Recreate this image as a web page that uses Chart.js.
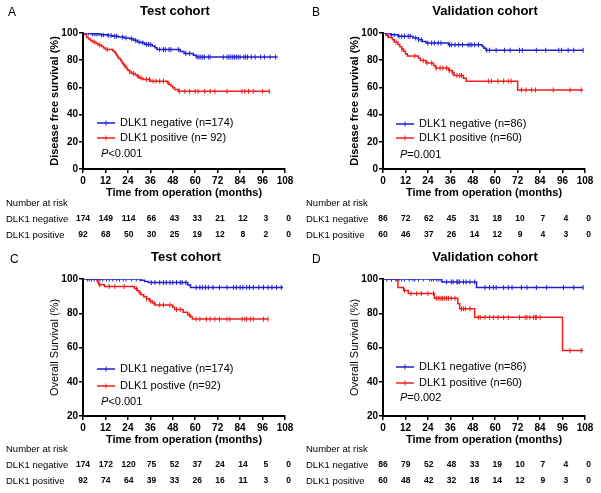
<!DOCTYPE html>
<html>
<head>
<meta charset="utf-8">
<title>DLK1 survival</title>
<script src="https://cdn.jsdelivr.net/npm/chart.js@4.4.1/dist/chart.umd.min.js"></script>
<style>
  html, body { margin: 0; padding: 0; background: #fff; }
  #wrap { position: relative; width: 601px; height: 493px; overflow: hidden; }
  canvas { position: absolute; }
</style>
</head>
<body>
<div id="wrap">
  <canvas id="panelA" width="300" height="246" style="left:0;top:0"></canvas>
  <canvas id="panelB" width="301" height="246" style="left:300px;top:0"></canvas>
  <canvas id="panelC" width="300" height="247" style="left:0;top:246px"></canvas>
  <canvas id="panelD" width="301" height="247" style="left:300px;top:246px"></canvas>
</div>
<script>
const monthTicks = [0, 12, 24, 36, 48, 60, 72, 84, 96, 108];

// A - disease free survival, test cohort
const dfsTestNegTime = [0, 4, 9, 13, 16, 19, 22, 25, 27, 29, 31, 33, 37, 38.5, 39.5, 52, 54, 59, 60.5, 104];
const dfsTestNegSurv = [100, 99.4, 98.8, 98.2, 97.6, 97.0, 96.4, 95.8, 94.6, 93.4, 92.8, 91.6, 90.4, 89.1, 87.8, 86.4, 85.0, 83.7, 82.3, 82.3];
const dfsTestNegCens = [3, 5, 6, 7, 8, 10, 11, 13.5, 15, 17, 18, 21, 23, 26, 28, 30, 32, 34, 35, 36, 41, 43, 44, 46, 47, 51, 55, 57, 61, 62, 63, 64, 65, 67, 68, 75, 77, 78, 79, 80, 81, 82, 83, 84, 86, 87, 88, 90, 92, 95, 97, 100, 103];
const dfsTestPosTime = [0, 1, 2, 3, 4, 5, 7, 8, 10, 11, 12, 16, 17, 17.5, 18, 18.5, 19, 20, 20.5, 21, 21.5, 22, 23, 23.5, 24, 25, 26, 28, 29, 30, 32, 36, 45, 46, 47, 48, 49, 51, 99.6];
const dfsTestPosSurv = [100, 98.9, 96.7, 95.6, 94.5, 93.4, 92.3, 91.2, 90.1, 89.0, 87.9, 86.8, 85.7, 84.6, 83.5, 82.4, 81.3, 80.2, 79.1, 78.0, 76.9, 75.8, 74.7, 73.6, 72.5, 71.4, 70.3, 69.2, 68.1, 67.0, 65.8, 64.6, 63.4, 62.2, 61.0, 59.7, 58.4, 57.1, 57.1];
const dfsTestPosCens = [6, 9, 13, 22.5, 25, 27, 29.5, 31, 34, 35.5, 37.5, 39, 41, 43, 45.5, 51.5, 54.5, 57, 60, 61.5, 65, 68, 70.5, 77, 85, 86.5, 88.5, 91, 96, 99.6];
const riskDfsTestNeg = [174, 149, 114, 66, 43, 33, 21, 12, 3, 0];
const riskDfsTestPos = [92, 68, 50, 30, 25, 19, 12, 8, 2, 0];

// B - disease free survival, validation cohort
const dfsValNegTime = [0, 4, 8, 16, 19, 21, 23, 35, 53, 54, 55, 107];
const dfsValNegSurv = [100, 98.8, 97.6, 96.3, 95.1, 93.8, 92.6, 91.3, 90.0, 88.7, 87.3, 87.3];
const dfsValNegCens = [2, 4.5, 6, 8.5, 10, 11.5, 13.5, 14.5, 17.5, 19, 20.5, 24, 26, 27.5, 29.5, 31, 35.5, 36.5, 38.5, 40.5, 42.5, 45.5, 46.5, 47.5, 49, 51, 55.5, 57, 60.5, 65, 68, 73, 74.5, 82, 87, 94, 95.5, 99, 102, 107];
const dfsValPosTime = [0, 1.5, 3, 5, 6, 8, 9, 10, 11, 12, 13, 19, 20, 23, 27, 28, 35, 37, 38, 43, 44.5, 72, 107];
const dfsValPosSurv = [100, 98.3, 96.7, 95.0, 93.3, 91.6, 89.9, 88.2, 86.5, 84.8, 83.1, 81.4, 79.7, 77.9, 76.1, 74.3, 72.5, 70.6, 68.7, 66.7, 64.6, 58.1, 58.1];
const dfsValPosCens = [2.5, 7, 10, 17, 21.5, 23.5, 26, 28.5, 30.5, 32, 34, 35.5, 37.5, 39.5, 41, 42, 56.5, 58, 61.5, 64.5, 67, 68.5, 74, 76.5, 79.5, 81.5, 91, 100, 106];
const riskDfsValNeg = [86, 72, 62, 45, 31, 18, 10, 7, 4, 0];
const riskDfsValPos = [60, 46, 37, 26, 14, 12, 9, 4, 3, 0];

// C - overall survival, test cohort
const osTestNegTime = [0, 31, 33, 35, 56, 57.5, 107];
const osTestNegSurv = [100, 99.3, 98.6, 97.9, 96.5, 95.1, 95.1];
const osTestNegCens = [2.5, 4.5, 6, 8, 9, 10.5, 12.5, 14, 16, 18, 19.5, 21.5, 23, 26, 28.5, 30.5, 36.5, 38.5, 41, 43, 44.5, 46.5, 48, 50, 52, 53, 55, 60.5, 62.5, 64, 65.5, 67, 69.5, 73, 77, 80.5, 82, 84, 85.5, 87.5, 89, 91, 94, 96.5, 99, 101, 103.5, 106];
const osTestPosTime = [0, 7.5, 8, 8.5, 11.5, 27.5, 29, 30, 31, 32.5, 34, 35.5, 37, 38.5, 48, 49, 53.5, 56, 57.5, 58.5, 99];
const osTestPosSurv = [100, 98.9, 97.8, 96.7, 95.6, 94.4, 93.2, 92.0, 90.8, 89.6, 88.4, 87.2, 86.0, 84.8, 83.5, 82.2, 80.6, 79.0, 77.8, 76.6, 76.6];
const osTestPosCens = [3.5, 9, 14, 17, 22, 28.5, 30.5, 34, 36, 38, 41, 43, 46.5, 50, 52, 57, 60.5, 62.5, 66, 68, 70.5, 73, 77, 78.5, 85, 86.5, 87.5, 89.5, 91, 96.5, 99];
const riskOsTestNeg = [174, 172, 120, 75, 52, 37, 24, 14, 5, 0];
const riskOsTestPos = [92, 74, 64, 39, 33, 26, 16, 11, 3, 0];

// D - overall survival, validation cohort
const osValNegTime = [0, 31.5, 50, 107];
const osValNegSurv = [100, 98.3, 95.0, 95.0];
const osValNegCens = [2, 4.5, 7, 8.5, 10, 11.5, 14, 16, 17, 19, 21.5, 25, 26, 27, 28.5, 29.5, 30.5, 34, 36.5, 37.5, 39.5, 40, 41, 43, 44.5, 46.5, 49, 54.5, 57, 59, 60.5, 64.5, 67, 69, 74, 77, 82, 87.5, 96.5, 102, 107];
const osValPosTime = [0, 8, 11, 13.5, 27.5, 40, 41, 49, 96, 107];
const osValPosSurv = [100, 95.0, 93.3, 91.5, 88.7, 85.6, 82.6, 77.6, 58.2, 58.2];
const osValPosCens = [4.5, 7, 11.5, 15, 18, 20.5, 24, 27, 28.5, 29.5, 30.5, 31.5, 32, 33, 34, 35, 36.5, 38.5, 42, 43, 44, 46.5, 51, 52, 54.5, 57, 59, 61.5, 64.5, 67, 73, 76, 77, 78.5, 80.5, 81.5, 82, 84, 100, 106];
const riskOsValNeg = [86, 79, 52, 48, 33, 19, 10, 7, 4, 0];
const riskOsValPos = [60, 48, 42, 32, 18, 14, 12, 9, 3, 0];

const FONT = '"Liberation Sans", Arial, sans-serif';
const BLUE = '#1f1fd2';
const RED = '#f01c1c';

Chart.defaults.font.family = FONT;
Chart.defaults.color = '#000';

// value of the step curve at time t
function survAt(times, surv, t) {
    let s = surv[0];
    for (let i = 0; i < times.length; i++) {
        if (times[i] <= t) s = surv[i];
    }
    return s;
}

function stepPoints(times, surv) {
    return times.map((t, i) => ({ x: t, y: surv[i] }));
}

function censorPoints(times, surv, cens) {
    return cens.map(t => ({ x: t, y: survAt(times, surv, t) }));
}

// panel letter, title, legend, p value and the number-at-risk table
const panelText = {
    id: 'panelText',
    afterDraw(chart, args, opts) {
        const ctx = chart.ctx;
        const xScale = chart.scales.x;
        ctx.save();
        ctx.fillStyle = '#000';
        ctx.textBaseline = 'middle';

        ctx.font = '12px ' + FONT;
        ctx.textAlign = 'left';
        ctx.fillText(opts.letter, opts.letterX, opts.letterY);

        ctx.font = 'bold 13px ' + FONT;
        ctx.textAlign = 'center';
        ctx.fillText(opts.title, opts.titleX, opts.titleY);

        ctx.font = '11px ' + FONT;
        ctx.textAlign = 'left';
        opts.legend.forEach((item, i) => {
            const y = opts.legendY[i];
            ctx.strokeStyle = item.color;
            ctx.lineWidth = 1.5;
            ctx.beginPath();
            ctx.moveTo(opts.legendX, y);
            ctx.lineTo(opts.legendX + 18, y);
            ctx.stroke();
            ctx.lineWidth = 1;
            ctx.beginPath();
            ctx.moveTo(opts.legendX + 9, y - 2.5);
            ctx.lineTo(opts.legendX + 9, y + 2.5);
            ctx.stroke();
            ctx.fillText(item.text, opts.legendX + 23, y);
        });

        ctx.font = 'italic 11px ' + FONT;
        ctx.fillText('P', opts.pX, opts.pY);
        const pw = ctx.measureText('P').width;
        ctx.font = '11px ' + FONT;
        ctx.fillText(opts.pText, opts.pX + pw, opts.pY);

        ctx.font = '9.5px ' + FONT;
        ctx.fillText('Number at risk', 6, opts.riskY[0]);
        ctx.fillText('DLK1 negative', 6, opts.riskY[1]);
        ctx.fillText('DLK1 positive', 6, opts.riskY[2]);

        ctx.font = 'bold 8.5px ' + FONT;
        ctx.textAlign = 'center';
        monthTicks.forEach((t, i) => {
            const px = xScale.getPixelForValue(t) + i * 0.4;
            ctx.fillText(String(opts.riskNeg[i]), px, opts.riskY[1]);
            ctx.fillText(String(opts.riskPos[i]), px, opts.riskY[2]);
        });
        ctx.restore();
    }
};

function makePanel(id, p) {
    const lineSet = (data, color) => ({
        data, borderColor: color, borderWidth: 1.5, stepped: true,
        pointRadius: 0, pointHoverRadius: 0, fill: false
    });
    const censSet = (data, color) => ({
        data, showLine: false, borderColor: color, pointBorderColor: color,
        pointStyle: 'line', rotation: 90, pointRadius: 2.5, pointBorderWidth: 1,
        pointHoverRadius: 0
    });

    return new Chart(document.getElementById(id), {
        type: 'line',
        data: {
            datasets: [
                lineSet(stepPoints(p.negTime, p.negSurv), BLUE),
                lineSet(stepPoints(p.posTime, p.posSurv), RED),
                censSet(censorPoints(p.negTime, p.negSurv, p.negCens), BLUE),
                censSet(censorPoints(p.posTime, p.posSurv, p.posCens), RED)
            ]
        },
        options: {
            responsive: false,
            animation: false,
            devicePixelRatio: 1,
            layout: { padding: { left: 0, right: p.padRight, top: 33, bottom: p.padBottom } },
            plugins: {
                legend: { display: false },
                tooltip: { enabled: false },
                panelText: p.text
            },
            scales: {
                x: {
                    type: 'linear', min: 0, max: 108,
                    ticks: { stepSize: 12, autoSkip: false, maxRotation: 0, padding: 2, font: { size: 10, weight: 'bold' } },
                    grid: { drawOnChartArea: false, tickLength: 4, color: '#000', lineWidth: 1.5 },
                    border: { color: '#000', width: 2 },
                    title: { display: true, text: 'Time from operation (months)', font: { size: 11, weight: 'bold' }, padding: { top: 0, bottom: 1 } },
                    afterFit(s) { s.height = 32; }
                },
                y: {
                    min: p.yMin, max: 100,
                    ticks: { stepSize: 20, padding: 1, font: { size: 10, weight: 'bold' } },
                    grid: { drawOnChartArea: false, tickLength: 4, color: '#000', lineWidth: 1.5 },
                    border: { color: '#000', width: 2 },
                    title: { display: true, text: p.yTitle, font: { size: 11, weight: p.yWeight }, padding: { top: 48, bottom: 0 } },
                    afterFit(s) { s.width = 83; }
                }
            }
        },
        plugins: [panelText]
    });
}

makePanel('panelA', {
    negTime: dfsTestNegTime, negSurv: dfsTestNegSurv, negCens: dfsTestNegCens,
    posTime: dfsTestPosTime, posSurv: dfsTestPosSurv, posCens: dfsTestPosCens,
    yMin: 0, yTitle: 'Disease free survival (%)', yWeight: 'bold',
    padRight: 15, padBottom: 45,
    text: {
        letter: 'A', letterX: 8, letterY: 13, title: 'Test cohort', titleX: 175, titleY: 11,
        legendX: 97, legendY: [123, 138],
        legend: [{ text: 'DLK1 negative (n=174)', color: BLUE }, { text: 'DLK1 positive (n= 92)', color: RED }],
        pX: 101, pY: 154, pText: '<0.001',
        riskY: [203, 219, 235], riskNeg: riskDfsTestNeg, riskPos: riskDfsTestPos
    }
});

makePanel('panelB', {
    negTime: dfsValNegTime, negSurv: dfsValNegSurv, negCens: dfsValNegCens,
    posTime: dfsValPosTime, posSurv: dfsValPosSurv, posCens: dfsValPosCens,
    yMin: 0, yTitle: 'Disease free survival (%)', yWeight: 'bold',
    padRight: 16, padBottom: 45,
    text: {
        letter: 'B', letterX: 12, letterY: 13, title: 'Validation cohort', titleX: 185, titleY: 11,
        legendX: 96, legendY: [124, 138],
        legend: [{ text: 'DLK1 negative (n=86)', color: BLUE }, { text: 'DLK1 positive (n=60)', color: RED }],
        pX: 100, pY: 155, pText: '=0.001',
        riskY: [203, 219, 235], riskNeg: riskDfsValNeg, riskPos: riskDfsValPos
    }
});

makePanel('panelC', {
    negTime: osTestNegTime, negSurv: osTestNegSurv, negCens: osTestNegCens,
    posTime: osTestPosTime, posSurv: osTestPosSurv, posCens: osTestPosCens,
    yMin: 20, yTitle: 'Overall Survival (%)', yWeight: 'normal',
    padRight: 15, padBottom: 45,
    text: {
        letter: 'C', letterX: 10, letterY: 14, title: 'Test cohort', titleX: 186, titleY: 11,
        legendX: 97, legendY: [123, 140],
        legend: [{ text: 'DLK1 negative (n=174)', color: BLUE }, { text: 'DLK1 postive (n=92)', color: RED }],
        pX: 101, pY: 156, pText: '<0.001',
        riskY: [203, 219, 235], riskNeg: riskOsTestNeg, riskPos: riskOsTestPos
    }
});

makePanel('panelD', {
    negTime: osValNegTime, negSurv: osValNegSurv, negCens: osValNegCens,
    posTime: osValPosTime, posSurv: osValPosSurv, posCens: osValPosCens,
    yMin: 20, yTitle: 'Overall Survival (%)', yWeight: 'normal',
    padRight: 16, padBottom: 45,
    text: {
        letter: 'D', letterX: 12, letterY: 14, title: 'Validation cohort', titleX: 185, titleY: 11,
        legendX: 96, legendY: [121, 137],
        legend: [{ text: 'DLK1 negative (n=86)', color: BLUE }, { text: 'DLK1 positive (n=60)', color: RED }],
        pX: 100, pY: 152, pText: '=0.002',
        riskY: [203, 219, 235], riskNeg: riskOsValNeg, riskPos: riskOsValPos
    }
});
</script>
</body>
</html>
